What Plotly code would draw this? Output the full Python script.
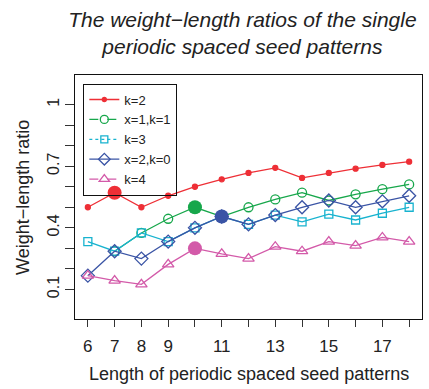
import plotly.graph_objects as go

lengths = list(range(6, 19))
x1k1_lengths = list(range(7, 19))

k2 = [0.500, 0.571, 0.500, 0.556, 0.600, 0.636, 0.667, 0.692, 0.643, 0.667, 0.688, 0.706, 0.722]
x1k1 = [0.286, 0.375, 0.444, 0.500, 0.455, 0.500, 0.538, 0.571, 0.533, 0.563, 0.588, 0.611]
k3 = [0.333, 0.286, 0.375, 0.333, 0.400, 0.455, 0.417, 0.462, 0.429, 0.467, 0.438, 0.471, 0.500]
x2k0 = [0.167, 0.286, 0.250, 0.333, 0.400, 0.455, 0.417, 0.462, 0.500, 0.533, 0.500, 0.529, 0.556]
k4 = [0.167, 0.143, 0.125, 0.222, 0.300, 0.273, 0.250, 0.308, 0.286, 0.333, 0.313, 0.353, 0.333]

# highlighted (filled large) points: (length, value)
hl_x = [7, 10, 11, 10]
hl_y = [0.571, 0.500, 0.455, 0.300]

names = ["k=2", "x=1,k=1", "k=3", "x=2,k=0", "k=4"]
colors = ["#ee2f36", "#17a74b", "#18b3cf", "#3a54a5", "#d35aa9"]
symbols = ["circle", "circle-open", "square-open", "diamond-open", "triangle-up-open"]
msizes = [5, 9, 8, 10, 10]
dashes = ["solid", "dash", "dot", "solid", "dash"]

y_tickvals = [0.1, 0.2, 0.3, 0.4, 0.5, 0.6, 0.7, 0.8, 0.9, 1.0]
y_ticktext = ["0.1", "", "", "0.4", "", "", "0.7", "", "", "1"]
x_ticktext = ["6", "7", "8", "9", "", "11", "", "13", "", "15", "", "17", ""]

series_x = [lengths, x1k1_lengths, lengths, lengths, lengths]
series_y = [k2, x1k1, k3, x2k0, k4]

FONT = "Liberation Sans, Arial, sans-serif"
fig = go.Figure()

for i in range(5):
    fig.add_trace(go.Scatter(
        x=series_x[i], y=series_y[i], mode="lines+markers",
        line=dict(color=colors[i], width=1.3),
        marker=dict(symbol=symbols[i], size=msizes[i], color=colors[i],
                    line=dict(color=colors[i], width=1.3)),
        showlegend=False))

for i, c in enumerate([colors[0], colors[1], colors[3], colors[4]]):
    fig.add_trace(go.Scatter(
        x=[hl_x[i]], y=[hl_y[i]], mode="markers",
        marker=dict(symbol="circle", size=14, color=c),
        showlegend=False))

# legend entries
for i in range(5):
    fig.add_trace(go.Scatter(
        x=[None], y=[None], mode="lines+markers", name=names[i],
        line=dict(color=colors[i], width=1.3, dash=dashes[i]),
        marker=dict(symbol=symbols[i], size=msizes[i] - 1, color=colors[i],
                    line=dict(color=colors[i], width=1.3))))

fig.update_layout(
    width=429, height=389,
    margin=dict(l=75, r=7, t=75, b=70),
    paper_bgcolor="white", plot_bgcolor="white",
    font=dict(family=FONT, color="#222222", size=16),
    title=dict(text="The weight−length ratios of the single<br>periodic spaced seed patterns",
               font=dict(size=21, style="italic", family=FONT, color="#222222"),
               x=0.565, xref="container", xanchor="center",
               y=1 - 27 / 389, yref="container", yanchor="middle"),
    legend=dict(x=0.024, y=0.965, xanchor="left", yanchor="top",
                bordercolor="#111111", borderwidth=1, bgcolor="rgba(255,255,255,0)",
                font=dict(size=13, family=FONT), tracegroupgap=0,
                itemwidth=30),
    xaxis=dict(range=[5.52, 18.48], tickvals=lengths, ticktext=x_ticktext,
               ticks="outside", ticklen=7, tickcolor="#333333", tickwidth=1,
               ticklabelstandoff=5,
               showline=True, linecolor="#111111", linewidth=1, mirror=True,
               showgrid=False, zeroline=False, tickfont=dict(size=17)),
    yaxis=dict(range=[-0.044, 1.144], tickvals=y_tickvals, ticktext=y_ticktext,
               ticks="outside", ticklen=9, tickcolor="#333333", tickwidth=1,
               tickangle=-90, ticklabelstandoff=0,
               showline=True, linecolor="#111111", linewidth=1, mirror=True,
               showgrid=False, zeroline=False, tickfont=dict(size=16)),
    annotations=[
        dict(text="Length of periodic spaced seed patterns", xref="paper", yref="paper",
             x=0.5, y=-55 / 244, xanchor="center", yanchor="middle", showarrow=False,
             font=dict(size=18, family=FONT, color="#222222")),
        dict(text="Weight−length ratio", xref="paper", yref="paper",
             x=-52 / 346.7, y=0.5, xanchor="center", yanchor="middle", showarrow=False,
             textangle=-90, font=dict(size=18, family=FONT, color="#222222")),
    ],
)

fig.write_html("out.html", config={"displayModeBar": False},
               post_script="document.body.style.margin='0';document.body.style.padding='0';")
